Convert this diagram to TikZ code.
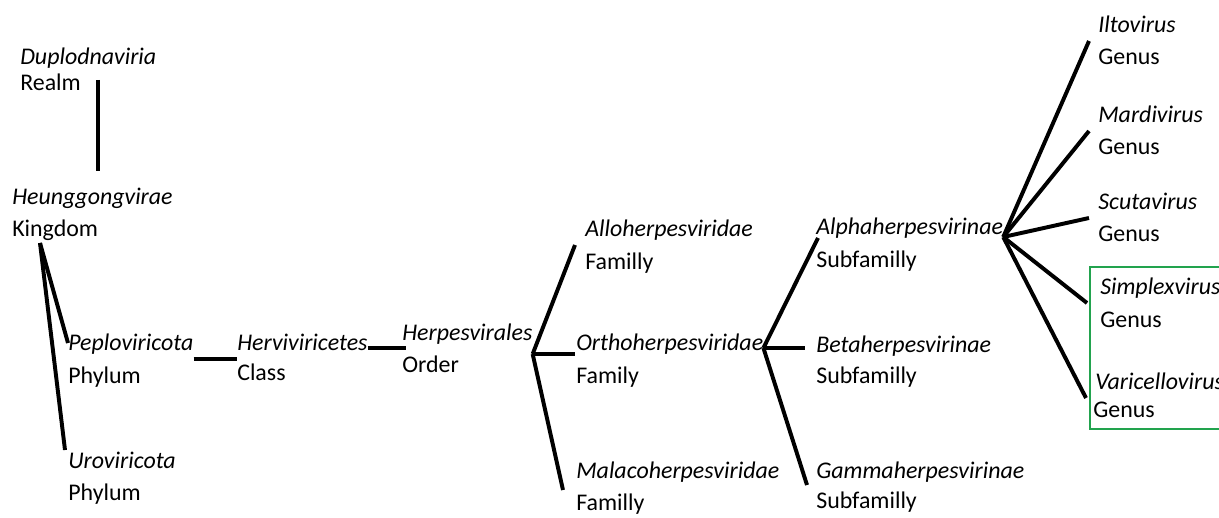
\documentclass[tikz,border=0pt]{standalone}
\usepackage{fontspec}
\setmainfont{Carlito}
\usetikzlibrary{positioning, calc, fit}
\definecolor{boxgreen}{RGB}{34,163,78}

\begin{document}
\begin{tikzpicture}[
    x=0.025cm, y=-0.025cm,
    taxon/.style={inner sep=0pt, anchor=base west, font=\fontsize{17}{20}\selectfont\itshape},
    rank/.style={inner sep=0pt, anchor=base west, font=\fontsize{17}{20}\selectfont},
    branch/.style={line width=2.8pt}
]
\useasboundingbox (0,0) rectangle (1219,518);
% realm, kingdom
\node (dup) [taxon] at (20,65) {Duplodnaviria};
\node (dupR) [rank] at (20,91) {Realm};
\node (heung) [taxon] at (12,205) {Heunggongvirae};
\node (heungR) [rank] at (12,237) {Kingdom};
% phyla, class, order
\node (peplo) [taxon] at (68,350) {Peploviricota};
\node (peploR) [rank] at (68,383) {Phylum};
\node (uro) [taxon] at (68,468) {Uroviricota};
\node (uroR) [rank] at (68,500) {Phylum};
\node (herv) [taxon] at (237,350) {Herviviricetes};
\node (hervR) [rank] at (237,380) {Class};
\node (herp) [taxon] at (402,341) {Herpesvirales};
\node (herpR) [rank] at (402,372) {Order};
% families
\node (allo) [taxon] at (585,237) {Alloherpesviridae};
\node (alloR) [rank] at (585,270) {Familly};
\node (ortho) [taxon] at (576,350) {Orthoherpesviridae};
\node (orthoR) [rank] at (576,384) {Family};
\node (mala) [taxon] at (576,478) {Malacoherpesviridae};
\node (malaR) [rank] at (576,510) {Familly};
% subfamilies
\node (alpha) [taxon] at (816,235) {Alphaherpesvirinae};
\node (alphaR) [rank] at (816,268) {Subfamilly};
\node (beta) [taxon] at (816,352) {Betaherpesvirinae};
\node (betaR) [rank] at (816,383) {Subfamilly};
\node (gamma) [taxon] at (816,478) {Gammaherpesvirinae};
\node (gammaR) [rank] at (816,508) {Subfamilly};
% genera
\node (ilto) [taxon] at (1098,33) {Iltovirus};
\node (iltoR) [rank] at (1098,65) {Genus};
\node (mardi) [taxon] at (1098,123) {Mardivirus};
\node (mardiR) [rank] at (1098,155) {Genus};
\node (scuta) [taxon] at (1098,210) {Scutavirus};
\node (scutaR) [rank] at (1098,242) {Genus};
\node (simplex) [taxon] at (1100,295) {Simplexvirus};
\node (simplexR) [rank] at (1100,327) {Genus};
\node (varic) [taxon] at (1095,390) {Varicellovirus};
\node (varicR) [rank] at (1093,417) {Genus};
\node (genusbox) [draw=boxgreen, line width=1.5pt, inner xsep=2pt, inner ysep=8pt,
    fit=(simplex) (simplexR) (varic) (varicR)] {};

% branches
\coordinate (realmTop) at ($(dupR.base east)+(17,-11)$);
\draw [branch, shorten >=12pt] (realmTop) -- (realmTop |- heung.north);
\coordinate (kFork) at ($(heungR.base west)+(28,6)$);
\draw [branch] (kFork) -- ($(peplo.base west)+(0,-7)$);
\draw [branch] (kFork) -- ($(uro.base west)+(-3,-18)$);
\draw [branch] ($(peplo.base east)+(0,9)$) -- ($(herv.base west)+(0,9)$);
\draw [branch] ($(herv.base east)+(0,-2)$) -- ($(herp.base west)+(4,7)$);
\coordinate (oFork) at ($(herp.base east)+(0,13)$);
\draw [branch] (oFork) -- ($(allo.base west)+(-10,8)$);
\draw [branch] (oFork) -- ($(ortho.base west)+(-1,4)$);
\draw [branch] (oFork) -- ($(mala.base west)+(-13,12)$);
\coordinate (fFork) at ($(ortho.base east)+(0,-2)$);
\draw [branch] (fFork) -- ($(alpha.base west)+(2,3)$);
\draw [branch] (fFork) -- ($(beta.base west)+(-11,-4)$);
\draw [branch] (fFork) -- ($(gamma.base west)+(-9,7)$);
\coordinate (aFork) at ($(alpha.base east)+(0,2)$);
\foreach \g in {ilto, mardi, scuta, varic}
    \draw [branch] (aFork) -- ($(\g.base west)+(-9,8)$);
\draw [branch] (aFork) -- ($(simplex.base west)+(-13,8)$);
\end{tikzpicture}
\end{document}
